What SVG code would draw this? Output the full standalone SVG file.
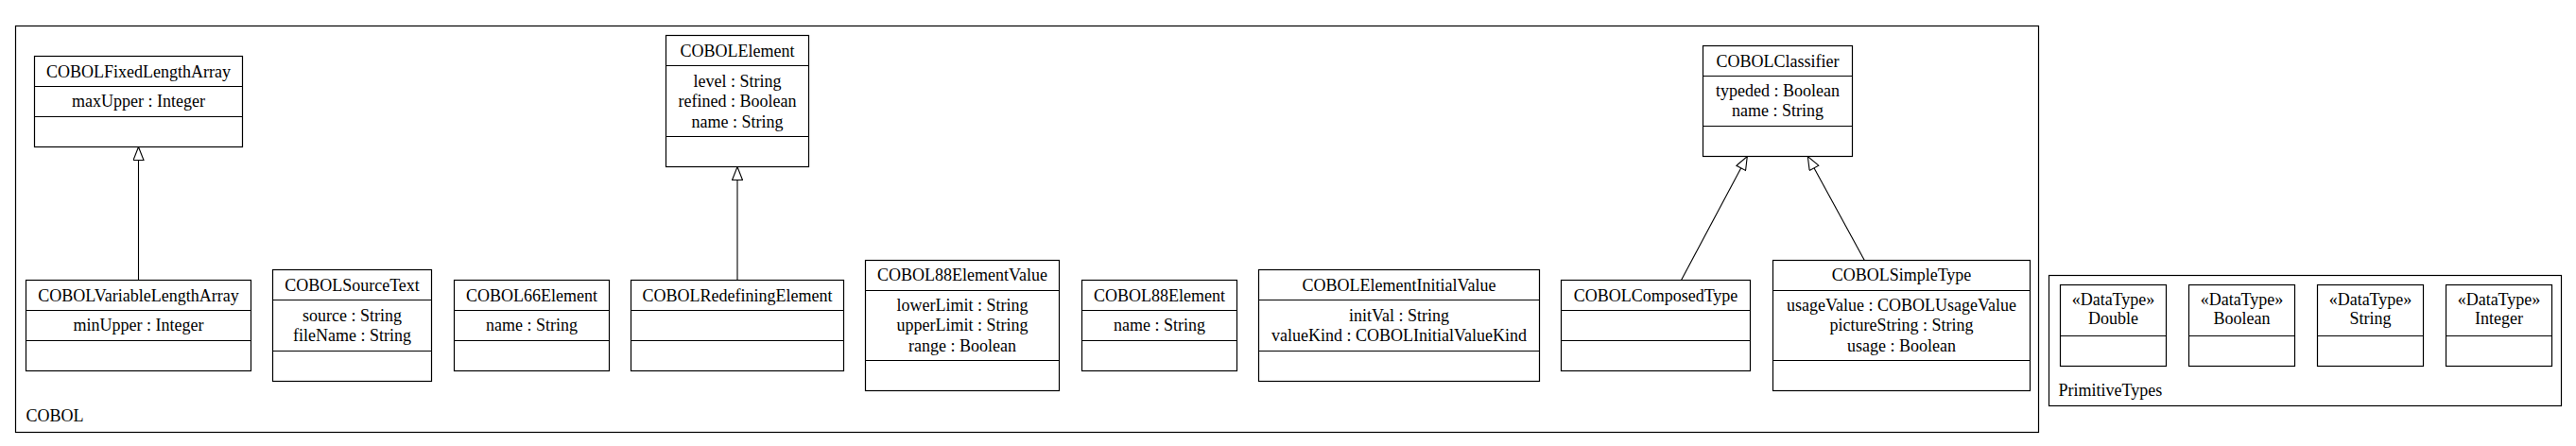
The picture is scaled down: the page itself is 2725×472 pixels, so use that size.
<svg xmlns="http://www.w3.org/2000/svg" width="2725" height="472" viewBox="0 0 2725 472">
<defs>
<style>
rect, line.d { fill: #fff; stroke: #000; stroke-width: 1.2; }
.frame { fill: none; stroke: #000; stroke-width: 1.2; }
text { font-family: 'Liberation Serif', serif; font-size: 18px; fill: #000; }
.c { text-anchor: middle; }
.conn { stroke: #000; stroke-width: 1.1; fill: none; marker-end: url(#gen); }
</style>
<marker id="gen" markerUnits="userSpaceOnUse" markerWidth="16" markerHeight="12" refX="14" refY="5.5" orient="auto" viewBox="-1 -0.5 16 12">
<path d="M0,0 L14,5.5 L0,11 Z" fill="#fff" stroke="#000" stroke-width="1.1"/>
</marker>
</defs>
<g font-family="Liberation Serif, serif">
<rect id="COBOL" class="frame" x="16.5" y="27.5" width="2140" height="430"/>
<text x="27.5" y="446">COBOL</text>
<rect id="PrimitiveTypes" class="frame" x="2167.5" y="291.5" width="542" height="138"/>
<text x="2177.5" y="419">PrimitiveTypes</text>

<g id="connectors">
<line class="conn" x1="146.5" y1="296.5" x2="146.5" y2="155.5"/>
<line class="conn" x1="780" y1="296.5" x2="780" y2="176.5"/>
<line class="conn" x1="1778.5" y1="296.5" x2="1848.3" y2="165.5"/>
<line class="conn" x1="1972.3" y1="275.5" x2="1912.3" y2="165.5"/>
</g>

<g id="COBOLFixedLengthArray">
<rect x="36.5" y="59.5" width="220" height="96"/>
<line class="d" x1="36.5" y1="91.5" x2="256.5" y2="91.5"/>
<line class="d" x1="36.5" y1="123.5" x2="256.5" y2="123.5"/>
<text class="c" x="146.5" y="81.5">COBOLFixedLengthArray</text>
<text class="c" x="146.5" y="113">maxUpper : Integer</text>
</g>

<g id="COBOLVariableLengthArray">
<rect x="27.5" y="296.5" width="238" height="96"/>
<line class="d" x1="27.5" y1="328.5" x2="265.5" y2="328.5"/>
<line class="d" x1="27.5" y1="360.5" x2="265.5" y2="360.5"/>
<text class="c" x="146.5" y="318.5">COBOLVariableLengthArray</text>
<text class="c" x="146.5" y="350">minUpper : Integer</text>
</g>

<g id="COBOLSourceText">
<rect x="288.5" y="285.5" width="168" height="118"/>
<line class="d" x1="288.5" y1="317.5" x2="456.5" y2="317.5"/>
<line class="d" x1="288.5" y1="371.5" x2="456.5" y2="371.5"/>
<text class="c" x="372.5" y="307.5">COBOLSourceText</text>
<text class="c" x="372.5" y="339.5">source : String</text>
<text class="c" x="372.5" y="360.5">fileName : String</text>
</g>

<g id="COBOL66Element">
<rect x="480.5" y="296.5" width="164" height="96"/>
<line class="d" x1="480.5" y1="328.5" x2="644.5" y2="328.5"/>
<line class="d" x1="480.5" y1="360.5" x2="644.5" y2="360.5"/>
<text class="c" x="562.5" y="318.5">COBOL66Element</text>
<text class="c" x="562.5" y="350">name : String</text>
</g>

<g id="COBOLElement">
<rect x="704.5" y="37.5" width="151" height="139"/>
<line class="d" x1="704.5" y1="69.5" x2="855.5" y2="69.5"/>
<line class="d" x1="704.5" y1="144.5" x2="855.5" y2="144.5"/>
<text class="c" x="780" y="59.5">COBOLElement</text>
<text class="c" x="780" y="91.5">level : String</text>
<text class="c" x="780" y="113">refined : Boolean</text>
<text class="c" x="780" y="134.5">name : String</text>
</g>

<g id="COBOLRedefiningElement">
<rect x="667.5" y="296.5" width="225" height="96"/>
<line class="d" x1="667.5" y1="328.5" x2="892.5" y2="328.5"/>
<line class="d" x1="667.5" y1="360.5" x2="892.5" y2="360.5"/>
<text class="c" x="780" y="318.5">COBOLRedefiningElement</text>
</g>

<g id="COBOL88ElementValue">
<rect x="915.5" y="275.5" width="205" height="138"/>
<line class="d" x1="915.5" y1="307.5" x2="1120.5" y2="307.5"/>
<line class="d" x1="915.5" y1="381.5" x2="1120.5" y2="381.5"/>
<text class="c" x="1018" y="297">COBOL88ElementValue</text>
<text class="c" x="1018" y="328.5">lowerLimit : String</text>
<text class="c" x="1018" y="350">upperLimit : String</text>
<text class="c" x="1018" y="371.5">range : Boolean</text>
</g>

<g id="COBOL88Element">
<rect x="1144.5" y="296.5" width="164" height="96"/>
<line class="d" x1="1144.5" y1="328.5" x2="1308.5" y2="328.5"/>
<line class="d" x1="1144.5" y1="360.5" x2="1308.5" y2="360.5"/>
<text class="c" x="1226.5" y="318.5">COBOL88Element</text>
<text class="c" x="1226.5" y="350">name : String</text>
</g>

<g id="COBOLElementInitialValue">
<rect x="1331.5" y="285.5" width="297" height="118"/>
<line class="d" x1="1331.5" y1="317.5" x2="1628.5" y2="317.5"/>
<line class="d" x1="1331.5" y1="371.5" x2="1628.5" y2="371.5"/>
<text class="c" x="1480" y="307.5">COBOLElementInitialValue</text>
<text class="c" x="1480" y="339.5">initVal : String</text>
<text class="c" x="1480" y="360.5">valueKind : COBOLInitialValueKind</text>
</g>

<g id="COBOLComposedType">
<rect x="1651.5" y="296.5" width="200" height="96"/>
<line class="d" x1="1651.5" y1="328.5" x2="1851.5" y2="328.5"/>
<line class="d" x1="1651.5" y1="360.5" x2="1851.5" y2="360.5"/>
<text class="c" x="1751.5" y="318.5">COBOLComposedType</text>
</g>

<g id="COBOLClassifier">
<rect x="1801.5" y="48.5" width="158" height="117"/>
<line class="d" x1="1801.5" y1="80.5" x2="1959.5" y2="80.5"/>
<line class="d" x1="1801.5" y1="133.5" x2="1959.5" y2="133.5"/>
<text class="c" x="1880.5" y="70.5">COBOLClassifier</text>
<text class="c" x="1880.5" y="102">typeded : Boolean</text>
<text class="c" x="1880.5" y="123">name : String</text>
</g>

<g id="COBOLSimpleType">
<rect x="1875.5" y="275.5" width="272" height="138"/>
<line class="d" x1="1875.5" y1="307.5" x2="2147.5" y2="307.5"/>
<line class="d" x1="1875.5" y1="381.5" x2="2147.5" y2="381.5"/>
<text class="c" x="2011.5" y="297">COBOLSimpleType</text>
<text class="c" x="2011.5" y="328.5">usageValue : COBOLUsageValue</text>
<text class="c" x="2011.5" y="350">pictureString : String</text>
<text class="c" x="2011.5" y="371.5">usage : Boolean</text>
</g>

<g id="Double">
<rect x="2179.5" y="301.5" width="112" height="86"/>
<line class="d" x1="2179.5" y1="355.5" x2="2291.5" y2="355.5"/>
<text class="c" x="2235.5" y="322.5">«DataType»</text>
<text class="c" x="2235.5" y="343">Double</text>
</g>

<g id="Boolean">
<rect x="2315.5" y="301.5" width="112" height="86"/>
<line class="d" x1="2315.5" y1="355.5" x2="2427.5" y2="355.5"/>
<text class="c" x="2371.5" y="322.5">«DataType»</text>
<text class="c" x="2371.5" y="343">Boolean</text>
</g>

<g id="String">
<rect x="2451.5" y="301.5" width="112" height="86"/>
<line class="d" x1="2451.5" y1="355.5" x2="2563.5" y2="355.5"/>
<text class="c" x="2507.5" y="322.5">«DataType»</text>
<text class="c" x="2507.5" y="343">String</text>
</g>

<g id="Integer">
<rect x="2587.5" y="301.5" width="112" height="86"/>
<line class="d" x1="2587.5" y1="355.5" x2="2699.5" y2="355.5"/>
<text class="c" x="2643.5" y="322.5">«DataType»</text>
<text class="c" x="2643.5" y="343">Integer</text>
</g>
</g>
</svg>
